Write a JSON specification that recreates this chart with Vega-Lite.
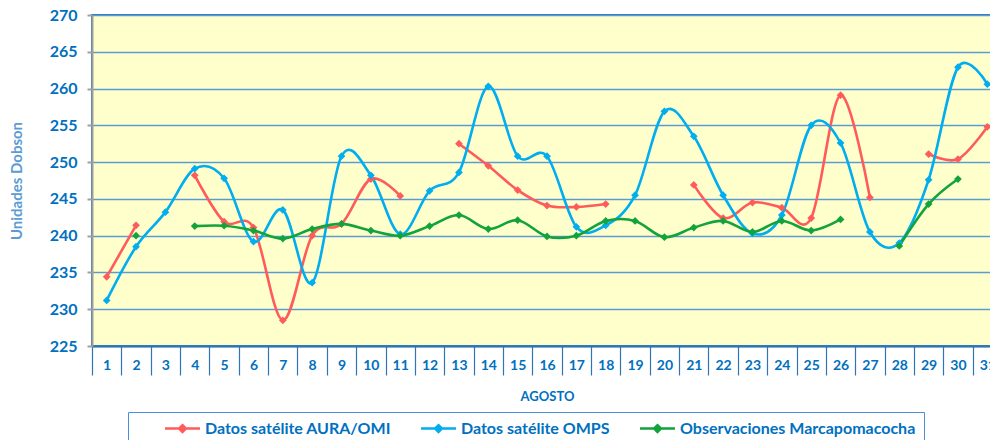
{
  "$schema": "https://vega.github.io/schema/vega-lite/v6.json",
  "autosize": "none",
  "padding": {"left": 92, "top": 15, "right": 0, "bottom": 94},
  "width": 910,
  "height": 331,
  "background": "#ffffff",
  "config": {
    "font": "Lato",
    "view": {"fill": "#FFFFCC", "stroke": "#2E75B6", "strokeWidth": 2}
  },
  "data": {
    "values": [
      {"dia": 1, "serie": "Datos satélite AURA/OMI", "tramo": "r1", "valor": 234.4},
      {"dia": 2, "serie": "Datos satélite AURA/OMI", "tramo": "r1", "valor": 241.4},
      {"dia": 4, "serie": "Datos satélite AURA/OMI", "tramo": "r2", "valor": 248.2},
      {"dia": 5, "serie": "Datos satélite AURA/OMI", "tramo": "r2", "valor": 241.9},
      {"dia": 6, "serie": "Datos satélite AURA/OMI", "tramo": "r2", "valor": 241.1},
      {"dia": 7, "serie": "Datos satélite AURA/OMI", "tramo": "r2", "valor": 228.5},
      {"dia": 8, "serie": "Datos satélite AURA/OMI", "tramo": "r2", "valor": 240.0},
      {"dia": 9, "serie": "Datos satélite AURA/OMI", "tramo": "r2", "valor": 241.6},
      {"dia": 10, "serie": "Datos satélite AURA/OMI", "tramo": "r2", "valor": 247.7},
      {"dia": 11, "serie": "Datos satélite AURA/OMI", "tramo": "r2", "valor": 245.4},
      {"dia": 13, "serie": "Datos satélite AURA/OMI", "tramo": "r3", "valor": 252.5},
      {"dia": 14, "serie": "Datos satélite AURA/OMI", "tramo": "r3", "valor": 249.5},
      {"dia": 15, "serie": "Datos satélite AURA/OMI", "tramo": "r3", "valor": 246.2},
      {"dia": 16, "serie": "Datos satélite AURA/OMI", "tramo": "r3", "valor": 244.1},
      {"dia": 17, "serie": "Datos satélite AURA/OMI", "tramo": "r3", "valor": 243.9},
      {"dia": 18, "serie": "Datos satélite AURA/OMI", "tramo": "r3", "valor": 244.3},
      {"dia": 21, "serie": "Datos satélite AURA/OMI", "tramo": "r4", "valor": 246.9},
      {"dia": 22, "serie": "Datos satélite AURA/OMI", "tramo": "r4", "valor": 242.4},
      {"dia": 23, "serie": "Datos satélite AURA/OMI", "tramo": "r4", "valor": 244.5},
      {"dia": 24, "serie": "Datos satélite AURA/OMI", "tramo": "r4", "valor": 243.8},
      {"dia": 25, "serie": "Datos satélite AURA/OMI", "tramo": "r4", "valor": 242.4},
      {"dia": 26, "serie": "Datos satélite AURA/OMI", "tramo": "r4", "valor": 259.1},
      {"dia": 27, "serie": "Datos satélite AURA/OMI", "tramo": "r4", "valor": 245.2},
      {"dia": 29, "serie": "Datos satélite AURA/OMI", "tramo": "r5", "valor": 251.1},
      {"dia": 30, "serie": "Datos satélite AURA/OMI", "tramo": "r5", "valor": 250.4},
      {"dia": 31, "serie": "Datos satélite AURA/OMI", "tramo": "r5", "valor": 254.8},
      {"dia": 1, "serie": "Datos satélite OMPS", "tramo": "b1", "valor": 231.2},
      {"dia": 2, "serie": "Datos satélite OMPS", "tramo": "b1", "valor": 238.5},
      {"dia": 3, "serie": "Datos satélite OMPS", "tramo": "b1", "valor": 243.2},
      {"dia": 4, "serie": "Datos satélite OMPS", "tramo": "b1", "valor": 249.1},
      {"dia": 5, "serie": "Datos satélite OMPS", "tramo": "b1", "valor": 247.8},
      {"dia": 6, "serie": "Datos satélite OMPS", "tramo": "b1", "valor": 239.2},
      {"dia": 7, "serie": "Datos satélite OMPS", "tramo": "b1", "valor": 243.5},
      {"dia": 8, "serie": "Datos satélite OMPS", "tramo": "b1", "valor": 233.6},
      {"dia": 9, "serie": "Datos satélite OMPS", "tramo": "b1", "valor": 250.8},
      {"dia": 10, "serie": "Datos satélite OMPS", "tramo": "b1", "valor": 248.2},
      {"dia": 11, "serie": "Datos satélite OMPS", "tramo": "b1", "valor": 240.2},
      {"dia": 12, "serie": "Datos satélite OMPS", "tramo": "b1", "valor": 246.1},
      {"dia": 13, "serie": "Datos satélite OMPS", "tramo": "b1", "valor": 248.6},
      {"dia": 14, "serie": "Datos satélite OMPS", "tramo": "b1", "valor": 260.3},
      {"dia": 15, "serie": "Datos satélite OMPS", "tramo": "b1", "valor": 250.8},
      {"dia": 16, "serie": "Datos satélite OMPS", "tramo": "b1", "valor": 250.8},
      {"dia": 17, "serie": "Datos satélite OMPS", "tramo": "b1", "valor": 241.2},
      {"dia": 18, "serie": "Datos satélite OMPS", "tramo": "b1", "valor": 241.4},
      {"dia": 19, "serie": "Datos satélite OMPS", "tramo": "b1", "valor": 245.5},
      {"dia": 20, "serie": "Datos satélite OMPS", "tramo": "b1", "valor": 256.9},
      {"dia": 21, "serie": "Datos satélite OMPS", "tramo": "b1", "valor": 253.5},
      {"dia": 22, "serie": "Datos satélite OMPS", "tramo": "b1", "valor": 245.5},
      {"dia": 23, "serie": "Datos satélite OMPS", "tramo": "b1", "valor": 240.3},
      {"dia": 24, "serie": "Datos satélite OMPS", "tramo": "b1", "valor": 242.8},
      {"dia": 25, "serie": "Datos satélite OMPS", "tramo": "b1", "valor": 255.0},
      {"dia": 26, "serie": "Datos satélite OMPS", "tramo": "b1", "valor": 252.6},
      {"dia": 27, "serie": "Datos satélite OMPS", "tramo": "b1", "valor": 240.5},
      {"dia": 28, "serie": "Datos satélite OMPS", "tramo": "b1", "valor": 239.0},
      {"dia": 29, "serie": "Datos satélite OMPS", "tramo": "b1", "valor": 247.6},
      {"dia": 30, "serie": "Datos satélite OMPS", "tramo": "b1", "valor": 262.9},
      {"dia": 31, "serie": "Datos satélite OMPS", "tramo": "b1", "valor": 260.6},
      {"dia": 2, "serie": "Observaciones Marcapomacocha", "tramo": "g1", "valor": 240.0},
      {"dia": 4, "serie": "Observaciones Marcapomacocha", "tramo": "g2", "valor": 241.3},
      {"dia": 5, "serie": "Observaciones Marcapomacocha", "tramo": "g2", "valor": 241.35},
      {"dia": 6, "serie": "Observaciones Marcapomacocha", "tramo": "g2", "valor": 240.7},
      {"dia": 7, "serie": "Observaciones Marcapomacocha", "tramo": "g2", "valor": 239.6},
      {"dia": 8, "serie": "Observaciones Marcapomacocha", "tramo": "g2", "valor": 240.9},
      {"dia": 9, "serie": "Observaciones Marcapomacocha", "tramo": "g2", "valor": 241.6},
      {"dia": 10, "serie": "Observaciones Marcapomacocha", "tramo": "g2", "valor": 240.7},
      {"dia": 11, "serie": "Observaciones Marcapomacocha", "tramo": "g2", "valor": 240.0},
      {"dia": 12, "serie": "Observaciones Marcapomacocha", "tramo": "g2", "valor": 241.3},
      {"dia": 13, "serie": "Observaciones Marcapomacocha", "tramo": "g2", "valor": 242.8},
      {"dia": 14, "serie": "Observaciones Marcapomacocha", "tramo": "g2", "valor": 240.9},
      {"dia": 15, "serie": "Observaciones Marcapomacocha", "tramo": "g2", "valor": 242.1},
      {"dia": 16, "serie": "Observaciones Marcapomacocha", "tramo": "g2", "valor": 239.9},
      {"dia": 17, "serie": "Observaciones Marcapomacocha", "tramo": "g2", "valor": 240.0},
      {"dia": 18, "serie": "Observaciones Marcapomacocha", "tramo": "g2", "valor": 242.0},
      {"dia": 19, "serie": "Observaciones Marcapomacocha", "tramo": "g2", "valor": 242.0},
      {"dia": 20, "serie": "Observaciones Marcapomacocha", "tramo": "g2", "valor": 239.8},
      {"dia": 21, "serie": "Observaciones Marcapomacocha", "tramo": "g2", "valor": 241.1},
      {"dia": 22, "serie": "Observaciones Marcapomacocha", "tramo": "g2", "valor": 242.0},
      {"dia": 23, "serie": "Observaciones Marcapomacocha", "tramo": "g2", "valor": 240.5},
      {"dia": 24, "serie": "Observaciones Marcapomacocha", "tramo": "g2", "valor": 242.0},
      {"dia": 25, "serie": "Observaciones Marcapomacocha", "tramo": "g2", "valor": 240.7},
      {"dia": 26, "serie": "Observaciones Marcapomacocha", "tramo": "g2", "valor": 242.2},
      {"dia": 28, "serie": "Observaciones Marcapomacocha", "tramo": "g3", "valor": 238.6},
      {"dia": 29, "serie": "Observaciones Marcapomacocha", "tramo": "g3", "valor": 244.3},
      {"dia": 30, "serie": "Observaciones Marcapomacocha", "tramo": "g3", "valor": 247.7}
    ]
  },
  "encoding": {
    "x": {
      "field": "dia",
      "type": "ordinal",
      "scale": {"type": "band", "paddingInner": 0, "paddingOuter": 0},
      "axis": {
        "title": "AGOSTO",
        "titleFont": "Lato",
        "titleFontSize": 13,
        "titleFontWeight": "bold",
        "titleColor": "#0070C0",
        "titlePadding": 15,
        "labelAngle": 0,
        "labelFont": "Lato",
        "labelFontSize": 14,
        "labelFontWeight": "bold",
        "labelColor": "#0070C0",
        "labelPadding": -17,
        "tickBand": "extent",
        "tickSize": 29,
        "tickColor": "#2E75B6",
        "tickWidth": 1.2,
        "domainColor": "#2E75B6",
        "domainWidth": 2,
        "grid": false
      }
    },
    "y": {
      "field": "valor",
      "type": "quantitative",
      "scale": {"domain": [225, 270], "nice": false, "zero": false},
      "axis": {
        "title": "Unidades Dobson",
        "titleFont": "Lato",
        "titleFontSize": 15,
        "titleFontWeight": "bold",
        "titleColor": "#5B9BD5",
        "titlePadding": 25,
        "values": [225, 230, 235, 240, 245, 250, 255, 260, 265, 270],
        "labelFont": "Lato",
        "labelFontSize": 16,
        "labelFontWeight": "bold",
        "labelColor": "#0070C0",
        "labelPadding": 10,
        "tickColor": "#A0A0A0",
        "tickSize": 5,
        "tickWidth": 2,
        "domainColor": "#A0A0A0",
        "domainWidth": 2,
        "grid": true,
        "gridColor": "#5B9BD5",
        "gridWidth": 1.3
      }
    },
    "color": {
      "field": "serie",
      "type": "nominal",
      "scale": {
        "domain": ["Datos satélite AURA/OMI", "Datos satélite OMPS", "Observaciones Marcapomacocha"],
        "range": ["#FF5B5B", "#00AEEF", "#12A33A"]
      },
      "legend": {
        "title": null,
        "orient": "none",
        "legendX": 36,
        "legendY": 397,
        "direction": "horizontal",
        "strokeColor": "#4A90D9",
        "fillColor": "#FFFFFF",
        "padding": 8,
        "symbolOffset": 38,
        "columnPadding": 1,
        "symbolType": "M-2.57,0H2.57M0,-0.5L0.5,0L0,0.5L-0.5,0Z",
        "symbolSize": 185,
        "symbolStrokeWidth": 2.5,
        "labelOffset": 14,
        "labelLimit": 500,
        "labelFont": "Lato",
        "labelFontSize": 16,
        "labelFontWeight": "bold",
        "labelColor": "#0070C0",
        "labelExpr": "datum.label + (datum.label == 'Observaciones Marcapomacocha' ? '\u2003\u2003' : '')",
        "encode": {
          "symbols": {
            "update": {
              "fill": {"scale": "color", "field": "value"},
              "stroke": {"scale": "color", "field": "value"}
            }
          }
        }
      }
    }
  },
  "layer": [
    {
      "mark": {"type": "line", "interpolate": "cardinal", "strokeWidth": 2.6},
      "encoding": {"detail": {"field": "tramo", "type": "nominal"}}
    },
    {
      "mark": {"type": "point", "shape": "diamond", "filled": true, "size": 60, "opacity": 1}
    }
  ]
}
